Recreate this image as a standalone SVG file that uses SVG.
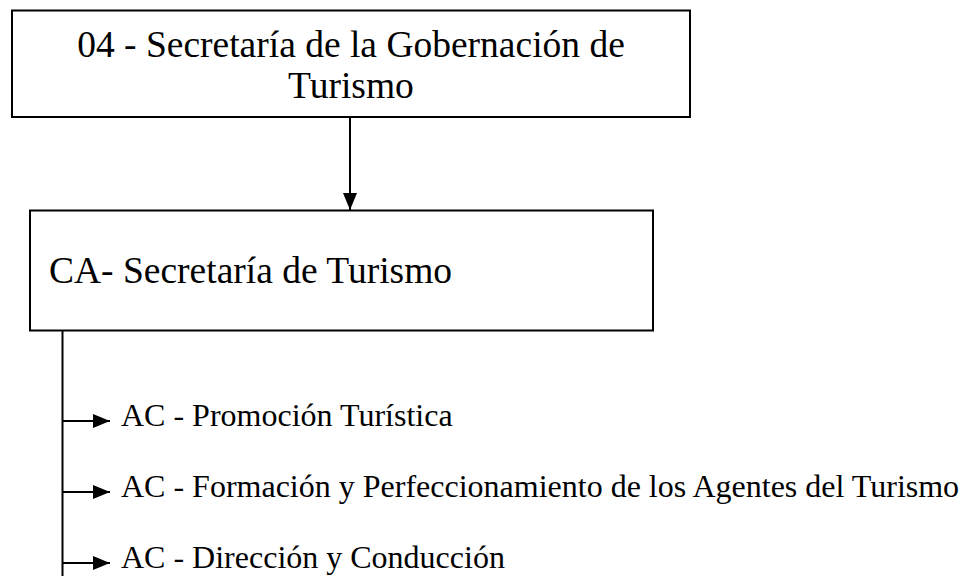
<svg xmlns="http://www.w3.org/2000/svg" width="971" height="576" viewBox="0 0 971 576">
<style>
.box{fill:#fff;stroke:#000;stroke-width:2}
.t{font-family:"Liberation Serif","Times New Roman",serif;fill:#000}
.big{font-size:37.5px}
.sm{font-size:32px}
.ln{stroke:#000;stroke-width:2;fill:none}
</style>
<defs>
<marker id="ah" markerWidth="17" markerHeight="14" refX="17" refY="7" orient="auto" markerUnits="userSpaceOnUse">
<path d="M0,0 L17,7 L0,14 Z" fill="#000"/>
</marker>
</defs>
<rect width="971" height="576" fill="#fff"/>
<g id="n-gobernacion">
<rect class="box" x="12" y="10.5" width="678" height="106.5"/>
<text class="t big" x="351" y="57" text-anchor="middle">04 - Secretaría de la Gobernación de</text>
<text class="t big" x="351" y="98" text-anchor="middle">Turismo</text>
</g>
<g id="n-secretaria">
<rect class="box" x="30" y="210.5" width="623" height="120"/>
<text class="t big" x="49" y="283">CA- Secretaría de Turismo</text>
</g>
<g id="n-promocion">
<text class="t sm" x="121" y="426">AC - Promoción Turística</text>
</g>
<g id="n-formacion">
<text class="t sm" x="121" y="497">AC - Formación y Perfeccionamiento de los Agentes del Turismo</text>
</g>
<g id="n-direccion">
<text class="t sm" x="121" y="568">AC - Dirección y Conducción</text>
</g>
<g id="connectors">
<line class="ln" x1="350" y1="117" x2="350" y2="210" marker-end="url(#ah)"/>
<line class="ln" x1="62.5" y1="331" x2="62.5" y2="576"/>
<line class="ln" x1="62.5" y1="421" x2="110" y2="421" marker-end="url(#ah)"/>
<line class="ln" x1="62.5" y1="492" x2="110" y2="492" marker-end="url(#ah)"/>
<line class="ln" x1="62.5" y1="563" x2="110" y2="563" marker-end="url(#ah)"/>
</g>
</svg>
